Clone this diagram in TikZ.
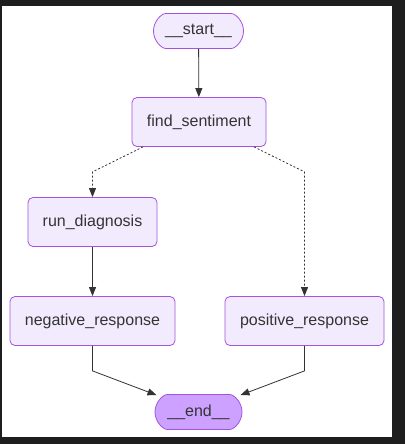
\documentclass[tikz,border=0pt]{standalone}
\usepackage{fontspec}
\setmainfont{Liberation Sans}
\usepackage{xcolor}
\usetikzlibrary{arrows.meta, shapes.misc}
\definecolor{nodefill}{HTML}{F2EBFE}
\definecolor{nodeline}{HTML}{A552E0}
\definecolor{endfill}{HTML}{CDA1FF}
\definecolor{inkgrey}{HTML}{333333}
\definecolor{bgdark}{HTML}{1E1E1E}

\begin{document}
\begin{tikzpicture}[x=1pt, y=-1pt,
  box/.style={draw=nodeline, fill=nodefill, rounded corners=5pt, text=inkgrey,
    font=\fontsize{16}{19}\selectfont, line width=0.8pt, minimum height=49pt, inner sep=0pt},
  term/.style={box, rounded rectangle, minimum height=35pt},
  edge/.style={draw=inkgrey, line width=0.8pt, -{Triangle[length=9pt, width=7pt]}},
  cond/.style={edge, dash pattern=on 2pt off 2pt}]
\useasboundingbox (0,0) rectangle (405,444);
\fill[bgdark] (0,0) rectangle (405,444);
\fill[white] (2,6) rectangle (392,437);
% nodes
\node[term, minimum width=90pt] (start) at (198.5,31) {\_\_start\_\_};
\node[box, minimum width=134pt] (fs) at (199,122) {find\_sentiment};
\node[box, minimum width=129pt] (rd) at (92.5,222) {run\_diagnosis};
\node[box, minimum width=165pt] (nr) at (92.5,321) {negative\_response};
\node[box, minimum width=159pt] (pr) at (304.5,321) {positive\_response};
\node[term, fill=endfill, minimum width=87pt] (end) at (198.5,412) {\_\_end\_\_};
% edges
\draw[edge] (start) -- (fs);
\draw[cond] ([xshift=-56pt]fs.south) -- ++(-50.5,25) -- (rd);
\draw[cond] ([xshift=55pt]fs.south) -- ++(50.5,25) -- (pr);
\draw[edge] (rd) -- (nr);
\draw[edge] (nr.south) -- ++(0,25) -- ([xshift=-42pt, yshift=-1pt]end.north);
\draw[edge] (pr.south) -- ++(0,25) -- ([xshift=42pt, yshift=-1pt]end.north);
\end{tikzpicture}
\end{document}
